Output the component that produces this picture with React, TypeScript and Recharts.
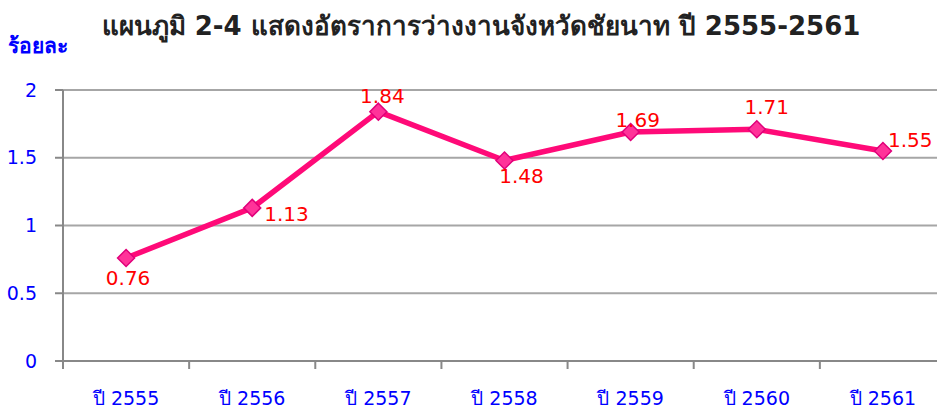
import { LineChart, Line, XAxis, YAxis, CartesianGrid, LabelList } from "recharts";

const years = ["ปี 2555", "ปี 2556", "ปี 2557", "ปี 2558", "ปี 2559", "ปี 2560", "ปี 2561"];
const unemploymentRate = [0.76, 1.13, 1.84, 1.48, 1.69, 1.71, 1.55];
const yTicks = [0, 0.5, 1, 1.5, 2];

const data = years.map((year, i) => ({ year, rate: unemploymentRate[i] }));

// label placement per point: [dx, dy, anchor]
const labelPlace: [number, number, string][] = [
  [2, 27, "middle"],
  [12, 13, "start"],
  [4, -9, "middle"],
  [17, 23, "middle"],
  [7, -5, "middle"],
  [10, -15, "middle"],
  [5, -4, "start"],
];

const FONT = "Tahoma, 'DejaVu Sans', sans-serif";
const BLUE = "#0000FF";
const CHART_W = 950;
const MARGIN = { top: 90, right: 4, bottom: 0, left: 0 };
const Y_W = 63;
const HALF_BAND = (CHART_W - MARGIN.left - MARGIN.right - Y_W) / years.length / 2;

const Diamond = (props: any) => {
  const { cx, cy } = props;
  if (cx == null || cy == null) return null;
  const r = 8.5;
  return (
    <polygon
      points={`${cx},${cy - r} ${cx + r},${cy} ${cx},${cy + r} ${cx - r},${cy}`}
      fill="#FF3399"
      stroke="#E0007A"
      strokeWidth={1.5}
    />
  );
};

const XTick = (props: any) => {
  const { x, y, payload } = props;
  return (
    <g>
      <line x1={x - HALF_BAND} y1={y} x2={x - HALF_BAND} y2={y + 8} stroke="#888" strokeWidth={2} />
      <text x={x} y={y + 44} textAnchor="middle" fill={BLUE} fontSize={19} fontFamily={FONT}>
        {payload.value}
      </text>
    </g>
  );
};

const ValueLabel = (props: any) => {
  const { x, y, value, index } = props;
  const [dx, dy, anchor] = labelPlace[index];
  return (
    <text x={x + dx} y={y + dy} textAnchor={anchor} fill="#FF0000" fontSize={20} fontFamily={FONT}>
      {value.toFixed(2)}
    </text>
  );
};

export default function App() {
  return (
    <div
      style={{
        position: "fixed",
        top: 0,
        left: 0,
        width: 937,
        height: 414,
        overflow: "hidden",
        background: "#fff",
        fontFamily: FONT,
      }}
    >
      <div
        style={{
          position: "absolute",
          top: 5,
          left: 0,
          width: 962,
          textAlign: "center",
          fontSize: 26,
          fontWeight: "bold",
          color: "#222",
        }}
      >
        แผนภูมิ 2-4 แสดงอัตราการว่างงานจังหวัดชัยนาท ปี 2555-2561
      </div>
      <div
        style={{
          position: "absolute",
          top: 29,
          left: 8,
          fontSize: 21,
          fontWeight: "bold",
          color: BLUE,
        }}
      >
        ร้อยละ
      </div>
      <LineChart width={CHART_W} height={414} data={data} margin={MARGIN}>
        <CartesianGrid vertical={false} stroke="#a6a6a6" strokeWidth={2} />
        <XAxis
          dataKey="year"
          scale="band"
          height={53}
          tickSize={0}
          tickMargin={0}
          tickLine={false}
          axisLine={{ stroke: "#888", strokeWidth: 2 }}
          tick={<XTick />}
          interval={0}
        />
        <YAxis
          width={Y_W}
          domain={[0, 2]}
          ticks={yTicks}
          tickSize={8}
          tickMargin={18}
          axisLine={{ stroke: "#888", strokeWidth: 2 }}
          tickLine={{ stroke: "#888", strokeWidth: 2 }}
          tick={{ fill: BLUE, fontSize: 19, fontFamily: FONT }}
        />
        <Line
          type="linear"
          dataKey="rate"
          stroke="#FF0A78"
          strokeWidth={5.5}
          dot={<Diamond />}
          activeDot={false}
          isAnimationActive={false}
        >
          <LabelList dataKey="rate" content={<ValueLabel />} />
        </Line>
      </LineChart>
    </div>
  );
}
